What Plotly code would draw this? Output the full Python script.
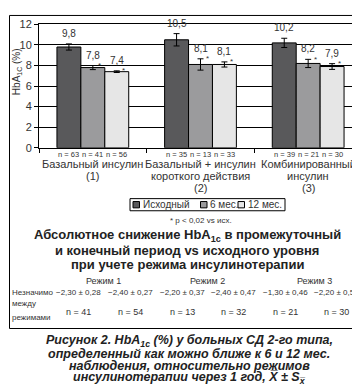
import plotly.graph_objects as go

# ---------------- data ----------------
categories = [["Базальный инсулин", "(1)"],
              ["Базальный + инсулин", "короткого действия", "(2)"],
              ["Комбинированный", "инсулин", "(3)"]]
series_names = ["Исходный", "6 мес.", "12 мес."]
baseline = [9.8, 10.5, 10.2]
month6 = [7.8, 8.1, 8.2]
month12 = [7.4, 8.1, 7.9]
err_baseline = [0.3, 0.6, 0.45]
err_month6 = [0.2, 0.55, 0.4]
err_month12 = [0.08, 0.25, 0.28]
value_labels = [["9,8", "7,8", "7,4"], ["10,5", "8,1", "8,1"], ["10,2", "8,2", "7,9"]]
signif = [[False, True, True], [False, True, True], [False, True, True]]
n_counts = [[63, 41, 56], [35, 13, 33], [39, 21, 30]]
y_ticks = [0, 2, 4, 6, 8, 10, 12]

regimes = ["Режим 1", "Режим 2", "Режим 3"]
changes = ["−2,30 ± 0,28", "−2,40 ± 0,27", "−2,20 ± 0,37",
           "−2,40 ± 0,47", "−1,30 ± 0,46", "−2,20 ± 0,53"]
n_table = [41, 54, 13, 32, 21, 30]

colors = ["#59595b", "#9b9b9d", "#e6e6e6"]
TXT = "#333333"
FONT = "Liberation Sans, Arial, sans-serif"

W, H = 360, 390
def X(px):
    return px / W
def Y(py):
    return 1 - py / H

x_idx = list(range(len(categories)))
fig = go.Figure()
series = [baseline, month6, month12]
errs = [err_baseline, err_month6, err_month12]
for j, (name, vals, e) in enumerate(zip(series_names, series, errs)):
    fig.add_trace(go.Bar(
        x=x_idx, y=vals, name=name, showlegend=False,
        marker=dict(color=colors[j], line=dict(color="black", width=1)),
        error_y=dict(type="data", array=e, visible=True, color="black", thickness=1, width=3),
    ))

ann = []
def note(px, py, text, size, xanchor="center", family=FONT, color=TXT, **kw):
    ann.append(dict(x=X(px), y=Y(py), xref="paper", yref="paper", text=text,
                    showarrow=False, xanchor=xanchor, yanchor="middle",
                    font=dict(size=size, color=color, family=family), **kw))

bw = (1 - 1/3) / 3
for i in x_idx:
    for j in range(3):
        xc = i + (j - 1) * bw
        top = series[j][i] + errs[j][i]
        ann.append(dict(x=xc, y=top, xref="x", yref="y", text=value_labels[i][j],
                        showarrow=False, xanchor="center", yanchor="bottom", yshift=3,
                        font=dict(size=10, color=TXT, family=FONT)))
        if signif[i][j]:
            ann.append(dict(x=xc, y=top, xref="x", yref="y", text="*",
                            showarrow=False, xanchor="center", yanchor="middle", xshift=7,
                            font=dict(size=8, color=TXT, family=FONT)))
        ann.append(dict(x=xc, y=Y(145), xref="x", yref="paper", text=f"n = {n_counts[i][j]}",
                        showarrow=False, xanchor="center", yanchor="middle",
                        font=dict(size=7.5, color=TXT, family=FONT)))
    for k, line in enumerate(categories[i]):
        ann.append(dict(x=i, y=Y(154.5 + 12.5 * k), xref="x", yref="paper", text=line,
                        showarrow=False, xanchor="center", yanchor="middle",
                        font=dict(size=11, color=TXT, family=FONT)))

# y axis title
note(9, 60, "HbA<sub>1C</sub> (%)", 10, textangle=-90)

# legend (manual)
shapes = []
shapes.append(dict(type="rect", xref="paper", yref="paper", x0=X(122), x1=X(277),
                   y0=Y(203), y1=Y(190.5), line=dict(color="black", width=1), fillcolor="white"))
leg_sq = [125, 192.5, 230]
leg_tx = [133, 200, 238]
for j, name in enumerate(series_names):
    shapes.append(dict(type="rect", xref="paper", yref="paper", x0=X(leg_sq[j]), x1=X(leg_sq[j] + 6.5),
                       y0=Y(200), y1=Y(193.5), line=dict(color="black", width=1), fillcolor=colors[j]))
    note(leg_tx[j], 197, name, 10, xanchor="left")

note(193, 213, "* p < 0,02 vs исх.", 8)

# title block
title_lines = ["<b>Абсолютное снижение HbA<sub>1c</sub> в промежуточный</b>",
               "<b>и конечный период vs исходного уровня</b>",
               "<b>при учете режима инсулинотерапии</b>"]
for k, t in enumerate(title_lines):
    note(179, 229 + 14.5 * k, t, 13, color="#222222")

# table
reg_x = [95, 199, 306]
for r, t in enumerate(regimes):
    note(reg_x[r], 275, t, 9)
col_x = [70, 122, 174, 225, 277, 328]
for c in range(6):
    note(col_x[c], 287, changes[c], 8)
    note(col_x[c], 307, f"n = {n_table[c]}", 9)
for t, py in zip(["Незначимо", "между", "режимами"], [287, 299, 313]):
    note(2, py, t, 8, xanchor="left")

# frame
shapes.append(dict(type="rect", xref="paper", yref="paper", x0=X(1.5), x1=X(357.5),
                   y0=Y(324.5), y1=Y(1.5), line=dict(color="black", width=1)))

# caption
cap_lines = ["<b><i>Рисунок 2. HbA<sub>1c</sub> (%) у больных СД 2-го типа,</i></b>",
             "<b><i>определенный как можно ближе к 6 и 12 мес.</i></b>",
             "<b><i>наблюдения, относительно режимов</i></b>",
             "<b><i>инсулинотерапии через 1 год, X\u0305 ± S<sub>x\u0305</sub></i></b>"]
for k, t in enumerate(cap_lines):
    note(181, 337.5 + 12.8 * k, t, 12.5, color="#222222")

fig.update_layout(
    width=W, height=H, margin=dict(l=0, r=0, t=0, b=0),
    paper_bgcolor="white", plot_bgcolor="white",
    barmode="group", bargap=1/3, bargroupgap=0,
    font=dict(family=FONT, color=TXT),
    annotations=ann, shapes=shapes,
    xaxis=dict(domain=[X(31), X(354)], range=[-0.5, 2.5], tickvals=[-0.5, 0.5, 1.5, 2.5],
               showticklabels=False, ticks="outside", ticklen=4, tickcolor="black",
               showline=True, linecolor="black", linewidth=1, mirror=True, showgrid=False, zeroline=False),
    yaxis=dict(domain=[Y(138), Y(10.7)], range=[0, 12], tickvals=y_ticks,
               ticks="outside", ticklen=4, tickcolor="black",
               tickfont=dict(size=11, color=TXT, family=FONT),
               showline=True, linecolor="black", linewidth=1, mirror=True,
               showgrid=True, gridcolor="black", gridwidth=1, zeroline=False),
)
fig.write_html("out.html")
